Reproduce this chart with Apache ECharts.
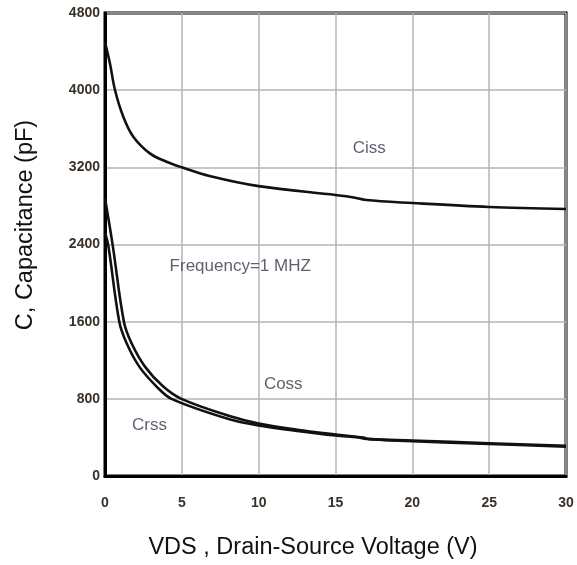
<!DOCTYPE html>
<html>
<head>
<meta charset="utf-8">
<script src="https://cdn.jsdelivr.net/npm/echarts@6/dist/echarts.min.js"></script>
<style>
  html, body { margin: 0; padding: 0; background: #fff; }
  #main { width: 577px; height: 565px; }
</style>
</head>
<body>
<div id="main"></div>
<script>
// 数据：VDS (V) 与电容 (pF)
var cissX = [0, 0.32, 0.65, 1.19, 1.84, 2.92, 4, 5, 6.8, 10, 15, 16, 17, 20, 25, 30];
var cissY = [4500, 4278, 4002, 3725, 3518, 3345, 3258, 3200, 3110, 3005, 2913, 2893, 2861, 2830, 2789, 2768];

var cossX = [0, 0.5, 1.23, 1.73, 2.6, 3.79, 4.97, 8.1, 10, 12.5, 15, 16.8, 17.2, 20, 25, 30];
var cossY = [2880, 2394, 1600, 1376, 1134, 927, 800, 622, 545, 480, 430, 398, 382, 368, 340, 312];

var crssX = [0, 0.21, 0.93, 1.41, 2.23, 3.36, 4.33, 8.1, 10, 12.5, 15, 16.5, 17, 20, 25, 30];
var crssY = [2520, 2394, 1600, 1376, 1134, 927, 800, 588, 525, 468, 420, 400, 385, 360, 332, 305];

// 图中文字标注：[VDS, pF, 文本]
var notes = [
  [17.2, 3400, "Ciss"],
  [8.8, 2177, "Frequency=1 MHZ"],
  [11.6, 954, "Coss"],
  [2.9, 529, "Crss"]
];

function pairs(xs, ys) {
  var out = [];
  for (var i = 0; i < xs.length; i++) out.push([xs[i], ys[i]]);
  return out;
}

var chartDom = document.getElementById("main");
var myChart = echarts.init(chartDom);
var option;

var lineStyle = { color: "#111", width: 2.6 };
var font = "Liberation Sans, Arial, sans-serif";

option = {
  animation: false,
  backgroundColor: "#fff",
  grid: {
    left: 105,
    right: 11,
    top: 13,
    bottom: 89,
    show: true,
    borderColor: "#000",
    borderWidth: 3
  },
  xAxis: {
    type: "value",
    min: 0,
    max: 30,
    interval: 5,
    axisLine: { show: true, lineStyle: { color: "#000", width: 3 } },
    axisTick: { show: false },
    axisLabel: {
      margin: 20,
      fontSize: 14,
      fontWeight: "bold",
      color: "#3a3228",
      fontFamily: font
    },
    splitLine: { show: true, lineStyle: { color: "#b4b4b4", width: 1.5 } }
  },
  yAxis: {
    type: "value",
    min: 0,
    max: 4800,
    interval: 800,
    axisLine: { show: true, lineStyle: { color: "#000", width: 3 } },
    axisTick: { show: false },
    axisLabel: {
      margin: 5,
      fontSize: 14,
      fontWeight: "bold",
      color: "#3a3228",
      fontFamily: font,
      formatter: function (v) { return String(v); }
    },
    splitLine: { show: true, lineStyle: { color: "#b4b4b4", width: 1.5 } }
  },
  graphic: [
    {
      type: "text",
      x: 313,
      y: 548,
      style: {
        text: "VDS , Drain-Source Voltage (V)",
        fontSize: 23.5,
        fill: "#111",
        align: "center",
        verticalAlign: "middle",
        fontFamily: font
      }
    },
    {
      type: "text",
      x: 26,
      y: 225,
      rotation: Math.PI / 2,
      style: {
        text: "C, Capacitance (pF)",
        fontSize: 23.5,
        fill: "#111",
        align: "center",
        verticalAlign: "middle",
        fontFamily: font
      }
    }
  ],
  series: [
    {
      name: "Ciss",
      type: "line",
      data: pairs(cissX, cissY),
      showSymbol: false,
      smooth: 0.35,
      lineStyle: lineStyle
    },
    {
      name: "Coss",
      type: "line",
      data: pairs(cossX, cossY),
      showSymbol: false,
      smooth: 0.35,
      lineStyle: lineStyle
    },
    {
      name: "Crss",
      type: "line",
      data: pairs(crssX, crssY),
      showSymbol: false,
      smooth: 0.35,
      lineStyle: lineStyle
    },
    {
      name: "notes",
      type: "scatter",
      symbolSize: 0,
      silent: true,
      data: notes.map(function (n) {
        return { value: [n[0], n[1]], name: n[2] };
      }),
      label: {
        show: true,
        position: "inside",
        formatter: "{b}",
        color: "#353a4a",
        fontSize: 17,
        fontFamily: font
      }
    }
  ]
};

option && myChart.setOption(option);
</script>
</body>
</html>
